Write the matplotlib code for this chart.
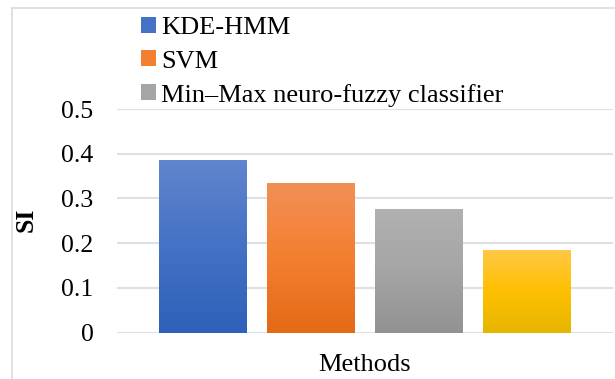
import matplotlib
matplotlib.use("Agg")
import matplotlib.pyplot as plt
import numpy as np
from matplotlib.lines import Line2D
from matplotlib.colors import LinearSegmentedColormap

plt.rcParams['font.family'] = ['Liberation Serif', 'DejaVu Serif']

category = "Methods"
series_names = ["KDE-HMM", "SVM", "Min\u2013Max neuro-fuzzy classifier", "Proposed"]
si_values = [0.386, 0.335, 0.277, 0.185]
top_colors = ["#6185CE", "#F28F56", "#B1B1B1", "#FFC845"]
bottom_colors = ["#2E61BA", "#E36A16", "#929292", "#E5B500"]
mid_colors = ["#4472C4", "#F47F30", "#A5A5A5", "#FFC000"]
y_ticks = [0, 0.1, 0.2, 0.3, 0.4, 0.5]
y_tick_labels = ["0", "0.1", "0.2", "0.3", "0.4", "0.5"]

W, H = 615, 379
fig = plt.figure(figsize=(W / 100, H / 100), dpi=100)
ax = fig.add_axes([117 / W, 1 - 332.7 / H, (613 - 117) / W, (332.7 - 109) / H])

# outer chart frame (partly cropped)
frame_col = "#D9DCE1"
fig.add_artist(Line2D([12 / W, 12 / W], [0, 1 - 8 / H], transform=fig.transFigure,
                      color=frame_col, linewidth=1.2))
fig.add_artist(Line2D([12 / W, 1], [1 - 8 / H, 1 - 8 / H], transform=fig.transFigure,
                      color=frame_col, linewidth=1.2))

step = 108 / 496
width = 88 / 496
n = len(si_values)
handles = []
for i, (v, tc, bc, mc, name) in enumerate(zip(si_values, top_colors, bottom_colors, mid_colors, series_names)):
    x = (i - (n - 1) / 2) * step
    bar = ax.bar(x, v, width=width, color=mc, label=name, zorder=2, linewidth=0)[0]
    cmap = LinearSegmentedColormap.from_list(f"g{i}", [bc, mc, tc])
    grad = np.linspace(0, 1, 256).reshape(-1, 1)
    im = ax.imshow(grad, cmap=cmap, aspect="auto", origin="lower",
                   extent=(x - width / 2, x + width / 2, 0, v), zorder=3)
    im.set_clip_path(bar)
    handles.append(bar)

ax.set_xlim(-0.5, 0.5)
ax.set_ylim(0, 0.5)
ax.set_yticks(y_ticks, y_tick_labels)
ax.set_xticks([0], [category])
ax.tick_params(axis="y", length=0, pad=17, labelsize=18.5)
ax.tick_params(axis="x", length=0, pad=15, labelsize=19)
ax.grid(axis="y", color="#DDE1E6", linewidth=1.5, zorder=1)
ax.set_axisbelow(True)
for s in ax.spines.values():
    s.set_visible(False)

ax.set_ylabel("SI", fontsize=18.5, fontweight="bold")
ax.yaxis.set_label_coords(38 / W, 1 - 220 / H, transform=fig.transFigure)

leg = fig.legend(handles[:3], series_names[:3], loc="upper left",
                 bbox_to_anchor=(141 / W, 1 - 17 / H), frameon=False,
                 fontsize=19, handlelength=0.55, handleheight=0.55,
                 handletextpad=0.22, labelspacing=0.42, borderpad=0, borderaxespad=0)

fig.savefig("out.png", dpi=100)
